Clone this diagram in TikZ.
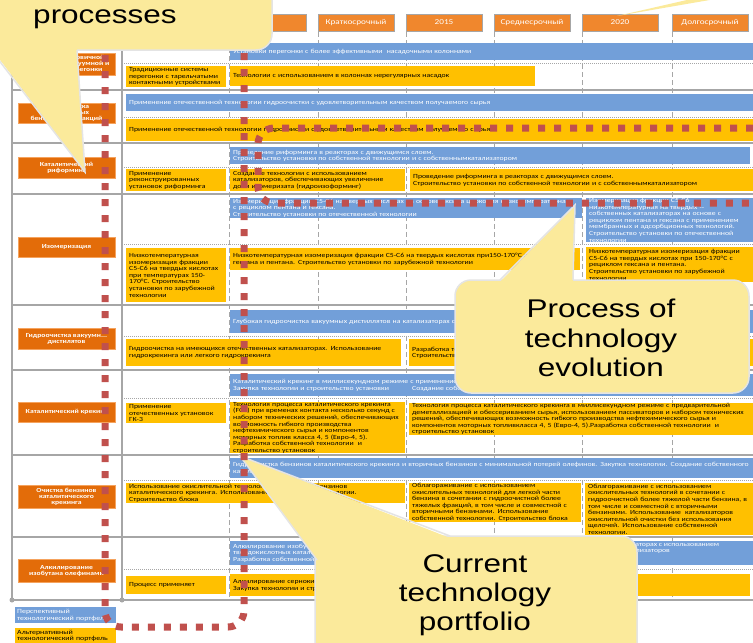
\documentclass[tikz,border=0pt]{standalone}
\usepackage{fontspec}
\setmainfont{Carlito}
\newfontfamily\cellfont[FakeStretch=1.23]{Carlito}
\newfontfamily\callfont[FakeStretch=1.23]{Liberation Sans}
\usetikzlibrary{positioning}
\definecolor{cHead}{HTML}{F0872D}
\definecolor{cLabel}{HTML}{E36C09}
\definecolor{cLabelEdge}{HTML}{F5A35E}
\definecolor{cBlue}{HTML}{729FD9}
\definecolor{cYellow}{HTML}{FFC000}
\definecolor{cGrid}{HTML}{A6A6A6}
\definecolor{cPath}{HTML}{C0504D}
\definecolor{cCallout}{HTML}{FBEA9B}
\definecolor{cCallEdge}{HTML}{E4E4E4}

\begin{document}
\begin{tikzpicture}[
    x=1pt, y=-1pt,
    hdr/.style={fill=cHead, draw=black!35, text=white, minimum width=76pt, minimum height=17pt, inner sep=0pt, font=\cellfont\fontsize{7.5}{8}\selectfont},
    lbl/.style={fill=cLabel, draw=cLabelEdge, text=white, align=center, inner sep=0pt, minimum width=97pt, font=\cellfont\bfseries\fontsize{6.2}{6}\selectfont},
    cell/.style={anchor=north west, align=left, inner xsep=3pt, inner ysep=0pt, font=\cellfont\fontsize{6.3}{6.6}\selectfont},
    bluebox/.style={cell, fill=cBlue, text=white},
    yelbox/.style={cell, fill=cYellow, text=black},
    legbox/.style={cell, inner xsep=2pt, font=\cellfont\fontsize{6.4}{6.6}\selectfont},
    rowline/.style={draw=cGrid, line width=1.2pt},
    subline/.style={draw=cGrid, line width=0.7pt, dash pattern=on 1pt off 1pt},
    yearline/.style={draw=cGrid, line width=1pt, dash pattern=on 5pt off 3pt},
    trail/.style={draw=cPath, line width=7pt, dash pattern=on 7pt off 9pt, rounded corners=16pt},
    callout/.style={fill=cCallout, draw=cCallEdge, line width=1.5pt},
    calltext/.style={align=center, font=\callfont\fontsize{25.6}{29.2}\selectfont}
]
\useasboundingbox (0,0) rectangle (753,643);
\clip (0,0) rectangle (753,643);
\fill[white] (0,0) rectangle (753,643);

% grid of the roadmap
\draw[yearline] (229,32) -- (229,600) (318,32) -- (318,600) (406,32) -- (406,600)
                (494,32) -- (494,600) (582,32) -- (582,600) (672,32) -- (672,600);
\draw[subline] (122,63) -- (753,63) (122,117) -- (753,117) (122,167) -- (753,167) (122,244) -- (753,244)
               (122,336) -- (753,336) (122,398) -- (753,398) (122,480) -- (753,480) (122,569) -- (753,569);
\draw[rowline] (12,90) -- (753,90) (12,143) -- (753,143) (12,194) -- (753,194) (12,305) -- (753,305)
               (12,370) -- (753,370) (12,455) -- (753,455) (12,537) -- (753,537) (12,600) -- (753,600);
\draw[rowline] (12,40) -- (12,600) (122,40) -- (122,600);
\fill[cGrid] (12,600) circle (2.5pt) (122,600) circle (2.5pt);

% time scale
\node[hdr] (hNow) at (268,22.5) {};
\node[hdr] (hShort) at (356,22.5) {Краткосрочный};
\node[hdr] (h2015) at (444,22.5) {2015};
\node[hdr] (hMid) at (532,22.5) {Среднесрочный};
\node[hdr] (h2020) at (620,22.5) {2020};
\node[hdr] (hLong) at (710,22.5) {Долгосрочный};

% processes
\node[lbl, minimum height=22pt] (lDist) at (66.5,64) {Технологии первичной\\атмосферно-вакуумной и\\вторичной перегонки};
\node[lbl, minimum height=20pt] (lHydro) at (66.5,113) {Гидроочистка\\прямогонных\\бензиновых фракций};
\node[lbl, minimum height=21pt] (lReform) at (66.5,167.5) {Каталитический\\риформинг};
\node[lbl, minimum height=20pt] (lIsom) at (66.5,247) {Изомеризация};
\node[lbl, minimum height=21pt] (lVacuum) at (66.5,338.5) {Гидроочистка вакуумн...\\дистилятов};
\node[lbl, minimum height=20pt] (lCrack) at (66.5,412) {Каталитический крекинг};
\node[lbl, minimum height=23pt] (lClean) at (66.5,496.5) {Очистка бензинов\\каталитического\\крекинга};
\node[lbl, minimum height=23pt] (lAlk) at (66.5,570.5) {Алкилирование\\изобутана олефинами};

% row 1
\node[bluebox, minimum width=523pt, minimum height=17pt, text width=517pt] (bDist) at (230,43) {Установки перегонки с более эффективными\ \ насадочными колоннами};
\node[yelbox, minimum width=100pt, minimum height=21pt, text width=94pt] (yDistNow) at (126,66) {Традиционные системы\\перегонки с тарельчатыми\\контактными устройствами};
\node[yelbox, minimum width=305pt, minimum height=20pt, text width=299pt] (yDist) at (230,66) {Технологии с использованием в колоннах нерегулярных насадок};

% row 2
\node[bluebox, minimum width=627pt, minimum height=17pt, text width=621pt] (bHydro) at (126,94) {Применение отечественной технологии гидроочистки с удовлетворительным качеством получаемого сырья};
\node[yelbox, minimum width=627pt, minimum height=22pt, text width=621pt] (yHydro) at (126,119) {Применение отечественной технологии гидроочистки с удовлетворительным качеством получаемого сырья};

% row 3
\node[bluebox, minimum width=520pt, minimum height=17pt, text width=514pt] (bReform) at (230,147) {Проведение риформинга в реакторах с движущимся слоем.\\Строительство установки по собственной технологии и с собственнымкатализатором};
\node[yelbox, minimum width=100pt, minimum height=22pt, text width=94pt] (yReformNow) at (126,169) {Применение\\реконструированных\\установок риформинга};
\node[yelbox, minimum width=175pt, minimum height=22pt, text width=169pt] (yReformA) at (230,169) {Создание технологии с использованием\\катализаторов, обеспечивающих увеличение\\доли изомеризата (гидроизоформинг)};
\node[yelbox, minimum width=343pt, minimum height=22pt, text width=337pt] (yReformB) at (410,169) {Проведение риформинга в реакторах с движущимся слоем.\\Строительство установки по собственной технологии и с собственнымкатализатором};

% row 4
\node[bluebox, minimum width=352pt, minimum height=20pt, text width=346pt] (bIsomA) at (230,198) {Изомеризация фракции С5-С6 на твердых кислотах на основе оксида циркония низкотемпературная\\с рециклом пентана и гексана.\\Строительство установки по отечественной технологии};
\node[bluebox, minimum width=167pt, minimum height=43pt, text width=161pt] (bIsomB) at (586,198) {Изомеризация фракции С5-С6\\низкотемпературная на твердых --\\собственных катализаторах на основе с\\рециклом пентана и гексана с применением\\мембранных и адсорбционных технологий.\\Строительство установки по отечественной\\технологии};
\node[yelbox, minimum width=100pt, minimum height=54pt, text width=94pt] (yIsomNow) at (126,248) {Низкотемпературная\\изомеризация фракции\\С5-С6 на твердых кислотах\\при температурах 150-\\170°С. Строительство\\установки по зарубежной\\технологии};
\node[yelbox, minimum width=350pt, minimum height=22pt, text width=344pt] (yIsomA) at (230,248) {Низкотемпературная изомеризация фракции С5-С6 на твердых кислотах при150-170°С с рециклом\\гексана и пентана. Строительство установки по зарубежной технологии};
\node[yelbox, minimum width=167pt, minimum height=35pt, text width=161pt] (yIsomB) at (586,247) {Низкотемпературная изомеризация фракции\\С5-С6 на твердых кислотах при 150-170°С с\\рециклом гексана и пентана.\\Строительство установки по зарубежной\\технологии};

% row 5
\node[bluebox, minimum width=523pt, minimum height=23pt, text width=517pt] (bVacuum) at (230,310) {Глубокая гидроочистка вакуумных дистиллятов на катализаторах собственного производства};
\node[yelbox, minimum width=275pt, minimum height=27pt, text width=269pt] (yVacuumNow) at (126,339) {Гидроочистка на имеющихся отечественных катализаторах. Использование\\гидрокрекинга или легкого гидрокрекинга};
\node[yelbox, minimum width=344pt, minimum height=27pt, text width=338pt] (yVacuum) at (409,339) {Разработка технологии.\\Строительство установки};

% row 6
\node[bluebox, minimum width=523pt, minimum height=22pt, text width=517pt] (bCrack) at (230,374) {Каталитический крекинг в миллисекундном режиме с применением собственных катализаторов\\\makebox[179pt][l]{Закупка технологии и строительство установки}Создание собственной технологии};
\node[yelbox, minimum width=100pt, minimum height=20pt, text width=94pt] (yCrackNow) at (126,403) {Применение\\отечественных установок\\ГК-3};
\node[yelbox, minimum width=175pt, minimum height=50pt, text width=169pt] (yCrackA) at (230,402) {Технология процесса каталитического крекинга\\(FCC) при временах контакта несколько секунд с\\набором технических решений, обеспечивающих\\возможность гибкого производства\\нефтехимического сырья и компонентов\\моторных топлив класса 4, 5 (Евро-4, 5).\\Разработка собственной технологии\ \ и\\строительство установок};
\node[yelbox, minimum width=344pt, minimum height=31pt, text width=338pt] (yCrackB) at (409,403) {Технология процесса каталитического крекинга в миллисекундном режиме с предварительной\\деметаллизацией и обессериванием сырья, использованием пассиваторов и набором технических\\решений, обеспечивающих возможность гибкого производства нефтехимического сырья и\\компонентов моторных топливкласса 4, 5 (Евро-4, 5).Разработка собственной технологии\ \ и\\строительство установок};

% row 7
\node[bluebox, minimum width=523pt, minimum height=20pt, text width=517pt] (bClean) at (230,458) {Гидроочистка бензинов каталитического крекинга и вторичных бензинов с минимальной потерей олефинов. Закупка технологии. Создание собственного\\катализатора};
\node[yelbox, minimum width=279pt, minimum height=20pt, text width=273pt] (yCleanNow) at (126,483) {Использование окислительной технологии для очистки бензинов\\каталитического крекинга. Использование собственной технологии.\\Строительство блока};
\node[yelbox, minimum width=172pt, minimum height=38pt, text width=166pt] (yCleanA) at (409,483) {Облагораживание с использованием\\окислительных технологий для легкой части\\бензина в сочетании с гидроочистной более\\тяжелых фракций, в том числе и совместной с\\вторичными бензинами. Использование\\собственной технологии. Строительство блока};
\node[yelbox, minimum width=168pt, minimum height=52pt, text width=162pt] (yCleanB) at (585,483) {Облагораживание с использованием\\окислительных технологий в сочетании с\\гидроочистной более тяжелой части бензина, в\\том числе и совместной с вторичными\\бензинами. Использование\ \ катализаторов\\окислительной очистки без использования\\щелочей. Использование собственной\\технологии.};

% row 8
\node[bluebox, minimum width=523pt, minimum height=24pt, text width=517pt] (bAlk) at (230,541) {Алкилирование изобутана олефинами на\\твердокислотных катализаторах\\Разработка собственной технологии};
\node[cell, text=white] (bAlkTail) at (575,543) {на новых катализаторах с использованием\\собственных катализаторов};
\node[yelbox, minimum width=100pt, minimum height=18pt, text width=94pt] (yAlkNow) at (126,576) {Процесс применяет};
\node[yelbox, minimum width=520pt, minimum height=22pt, text width=514pt] (yAlk) at (230,574) {Алкилирование сернокислотное\\Закупка технологии и строительство установки};

% legend
\node[legbox, fill=cBlue, text=white, minimum width=101pt, minimum height=16pt, text width=97pt] (legNew) at (15,607) {Перспективный\\технологический портфель};
\node[legbox, fill=cYellow, minimum width=101pt, minimum height=15pt, text width=97pt] (legAlt) at (15,628) {Альтернативный\\технологический портфель};

% callouts
\draw[callout, rounded corners=16pt] (-20,-60) rectangle (272,50);
\fill[cCallout] (-9,48) -- (85,172) -- (77,48) -- cycle;
\draw[cCallEdge, line width=1.5pt] (-9,50) -- (85,172) -- (77,50);
\node[calltext] (cProc) at (105,2) {Refining\\processes};

\draw[callout, rounded corners=16pt] (455,280) rectangle (749,393);
\fill[cCallout] (500,282) -- (575,205) -- (573,282) -- cycle;
\draw[cCallEdge, line width=1.5pt] (500,280) -- (575,205) -- (573,280);
\node[calltext] (cEvol) at (601,338) {Process of\\technology\\evolution};

\draw[callout, rounded corners=16pt] (315,536) rectangle (637,680);
\fill[cCallout] (240,456) -- (317,560) -- (450,538) -- cycle;
\draw[cCallEdge, line width=1.5pt] (317,560) -- (240,456) -- (450,536);
\node[calltext] (cCurr) at (475,595) {Current\\technology\\portfolio};

\fill[cCallout] (617,16) -- (700,-3) -- (727,-3) -- cycle;

% evolution trails
\draw[trail] (105,55) -- (105,627) -- (244,627) -- (244,48);
\draw[trail] (753,128) -- (258,128) -- (258,203) -- (753,203);

\end{tikzpicture}
\end{document}
